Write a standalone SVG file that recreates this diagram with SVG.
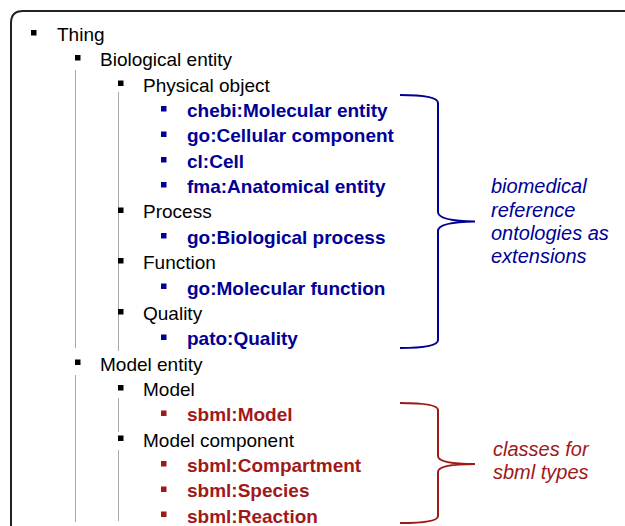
<svg xmlns="http://www.w3.org/2000/svg" width="625" height="526" viewBox="0 0 625 526">
<style>
  .t { font-family: "Liberation Sans", Arial, sans-serif; font-size: 19px; fill: #000; }
  .b { font-weight: bold; fill: #000096; }
  .r { font-weight: bold; fill: #A01919; }
  .lbl { font-family: "Liberation Sans", Arial, sans-serif; font-size: 20px; font-style: italic; }
  .bk { fill: #000; }
  .bb { fill: #000096; }
  .br { fill: #A01919; }
  .guide { stroke: #aaaaaa; stroke-width: 1; fill: none; }
  .brace { fill: none; stroke-width: 2; }
</style>
<rect width="625" height="526" fill="#fff"/>
<path d="M11,540 V23 Q11,11 23,11 H640" fill="none" stroke="#222" stroke-width="2"/>

<g id="connectors">
  <line class="guide" x1="75.5" y1="70" x2="75.5" y2="348"/>
  <line class="guide" x1="118.5" y1="92" x2="118.5" y2="351"/>
  <line class="guide" x1="75.5" y1="375" x2="75.5" y2="522"/>
  <line class="guide" x1="118.5" y1="398" x2="118.5" y2="432"/>
  <line class="guide" x1="118.5" y1="450" x2="118.5" y2="521"/>
  <path class="brace" stroke="#000096" d="M400,95 Q438,95 438,103 V212 Q438,221 475,221.5 Q438,222 438,231 V340 Q438,348 400,348"/>
  <path class="brace" stroke="#A01919" d="M400,403 Q438,403 438,410 V456 Q438,464 475,464 Q438,464 438,472 V516 Q438,523 400,523"/>
</g>

<g id="thing"><rect class="bk" x="31" y="30" width="5.5" height="5.5"/><text class="t" x="57" y="41">Thing</text></g>
<g id="biological-entity"><rect class="bk" x="75" y="55" width="5.5" height="5.5"/><text class="t" x="100" y="66.3">Biological entity</text></g>
<g id="physical-object"><rect class="bk" x="118" y="80.5" width="5.5" height="5.5"/><text class="t" x="143" y="91.7">Physical object</text></g>
<g id="chebi"><rect class="bb" x="161" y="106" width="5.5" height="5.5"/><text class="t b" x="187" y="117">chebi:Molecular entity</text></g>
<g id="go-cellular"><rect class="bb" x="161" y="131.5" width="5.5" height="5.5"/><text class="t b" x="187" y="142.4">go:Cellular component</text></g>
<g id="cl-cell"><rect class="bb" x="161" y="157" width="5.5" height="5.5"/><text class="t b" x="187" y="167.7">cl:Cell</text></g>
<g id="fma"><rect class="bb" x="161" y="182" width="5.5" height="5.5"/><text class="t b" x="187" y="193">fma:Anatomical entity</text></g>
<g id="process"><rect class="bk" x="118" y="207.5" width="5.5" height="5.5"/><text class="t" x="143" y="218.4">Process</text></g>
<g id="go-biological"><rect class="bb" x="161" y="233" width="5.5" height="5.5"/><text class="t b" x="187" y="243.8">go:Biological process</text></g>
<g id="function"><rect class="bk" x="118" y="258" width="5.5" height="5.5"/><text class="t" x="143" y="269.1">Function</text></g>
<g id="go-molecular"><rect class="bb" x="161" y="283.5" width="5.5" height="5.5"/><text class="t b" x="187" y="294.5">go:Molecular function</text></g>
<g id="quality"><rect class="bk" x="118" y="309" width="5.5" height="5.5"/><text class="t" x="143" y="319.8">Quality</text></g>
<g id="pato"><rect class="bb" x="161" y="334.5" width="5.5" height="5.5"/><text class="t b" x="187" y="345.2">pato:Quality</text></g>
<g id="model-entity"><rect class="bk" x="75" y="359.5" width="5.5" height="5.5"/><text class="t" x="100" y="370.5">Model entity</text></g>
<g id="model"><rect class="bk" x="118" y="385" width="5.5" height="5.5"/><text class="t" x="143" y="395.9">Model</text></g>
<g id="sbml-model"><rect class="br" x="161" y="410.5" width="5.5" height="5.5"/><text class="t r" x="187" y="421.2">sbml:Model</text></g>
<g id="model-component"><rect class="bk" x="118" y="435.5" width="5.5" height="5.5"/><text class="t" x="143" y="446.5">Model component</text></g>
<g id="sbml-compartment"><rect class="br" x="161" y="461" width="5.5" height="5.5"/><text class="t r" x="187" y="471.9">sbml:Compartment</text></g>
<g id="sbml-species"><rect class="br" x="161" y="486.5" width="5.5" height="5.5"/><text class="t r" x="187" y="497.2">sbml:Species</text></g>
<g id="sbml-reaction"><rect class="br" x="161" y="511.5" width="5.5" height="5.5"/><text class="t r" x="187" y="522.6">sbml:Reaction</text></g>

<g id="label-biomedical">
  <text class="lbl" fill="#000096" x="491" y="193">biomedical</text>
  <text class="lbl" fill="#000096" x="491" y="216.5">reference</text>
  <text class="lbl" fill="#000096" x="491" y="240">ontologies as</text>
  <text class="lbl" fill="#000096" x="491" y="263">extensions</text>
</g>
<g id="label-sbml">
  <text class="lbl" fill="#A01919" x="493" y="456">classes for</text>
  <text class="lbl" fill="#A01919" x="493" y="478.5">sbml types</text>
</g>
</svg>
